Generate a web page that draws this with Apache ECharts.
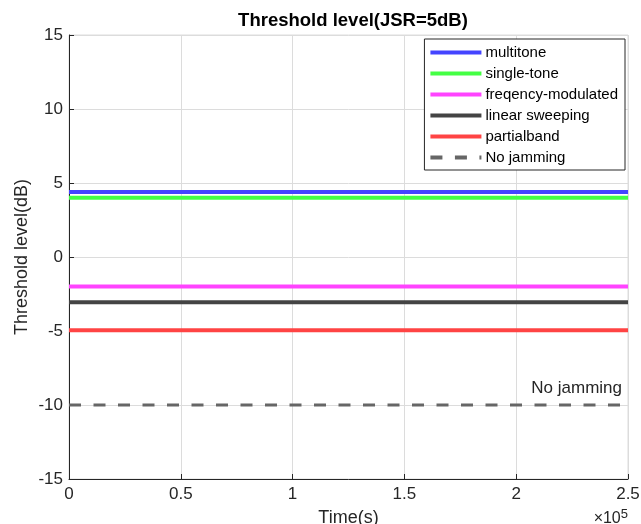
<!DOCTYPE html>
<html>
<head>
<meta charset="utf-8">
<script src="https://cdn.jsdelivr.net/npm/echarts@6/dist/echarts.min.js"></script>
<style>
  html, body { margin: 0; padding: 0; background: #fff; }
  #main { width: 641px; height: 524px; }
</style>
</head>
<body>
<div id="main"></div>
<script>
// 数据
const timeRange = [0, 250000];
const seriesNames = ['multitone', 'single-tone', 'freqency-modulated', 'linear sweeping', 'partialband', 'No jamming'];
const thresholds = [4.4, 4.0, -2.0, -3.05, -4.95, -10.0];
const seriesColors = ['#4444ff', '#44ff44', '#ff44ff', '#444444', '#ff4444', '#666666'];
const xTickLabels = ['0', '0.5', '1', '1.5', '2', '2.5'];

const chart = echarts.init(document.getElementById('main'));
const font = 'Liberation Sans, Arial, sans-serif';

const series = seriesNames.map((name, i) => {
    const s = {
        name: name,
        type: 'line',
        symbol: 'none',
        data: timeRange.map(t => [t, thresholds[i]]),
        lineStyle: { color: seriesColors[i], width: 4, type: i === 5 ? [12, 12.5] : 'solid', opacity: 1 },
        itemStyle: { color: seriesColors[i] },
        emphasis: { disabled: true },
        z: 3
    };
    if (i === 5) {
        s.lineStyle.width = 3;
        s.markPoint = {
            symbol: 'circle',
            symbolSize: 0,
            data: [{ coord: [timeRange[1], thresholds[i]] }],
            label: {
                show: true,
                formatter: 'No jamming',
                position: 'left',
                offset: [-1, -17],
                color: '#262626',
                fontSize: 17,
                fontFamily: font
            }
        };
    }
    return s;
});

const option = {
    animation: false,
    title: {
        text: 'Threshold level(JSR=5dB)',
        left: 348,
        textAlign: 'center',
        top: 6,
        textStyle: { fontSize: 18.5, fontWeight: 'bold', color: '#000', fontFamily: font }
    },
    grid: {
        left: 69, right: 13, top: 35, bottom: 45,
        outerBoundsMode: 'none',
        show: true, borderColor: '#dcdcdc', borderWidth: 1
    },
    legend: {
        orient: 'vertical',
        right: 16,
        top: 39,
        padding: [6, 7, 5, 4],
        itemWidth: 51,
        itemHeight: 14,
        itemGap: 6,
        backgroundColor: '#fff',
        borderColor: '#262626',
        borderWidth: 1,
        borderRadius: 0,
        itemStyle: { opacity: 0 },
        lineStyle: { width: 4 },
        textStyle: { fontSize: 15, color: '#000', fontFamily: font, padding: [0, 0, 0, -1] },
        data: seriesNames
    },
    xAxis: {
        type: 'value',
        min: timeRange[0],
        max: timeRange[1],
        interval: 50000,
        name: 'Time(s)',
        nameLocation: 'middle',
        nameGap: 30,
        nameTextStyle: { fontSize: 18, color: '#262626', fontFamily: font },
        axisLine: { onZero: false, lineStyle: { color: '#262626', width: 1 } },
        axisTick: { inside: true, length: 5, lineStyle: { color: '#262626' } },
        axisLabel: {
            fontSize: 17, color: '#262626', fontFamily: font, margin: 7,
            formatter: (v) => xTickLabels[Math.round(v / 50000)]
        },
        splitLine: { show: true, lineStyle: { color: '#dcdcdc', width: 1 } }
    },
    yAxis: {
        type: 'value',
        min: -15,
        max: 15,
        interval: 5,
        name: 'Threshold level(dB)',
        nameLocation: 'middle',
        nameGap: 38,
        nameMoveOverlap: false,
        nameTextStyle: { fontSize: 18, color: '#262626', fontFamily: font },
        axisLine: { onZero: false, lineStyle: { color: '#262626', width: 1 } },
        axisTick: { inside: true, length: 5, lineStyle: { color: '#262626' } },
        axisLabel: { fontSize: 17, color: '#262626', fontFamily: font, margin: 6 },
        splitLine: { show: true, lineStyle: { color: '#dcdcdc', width: 1 } }
    },
    graphic: [{
        type: 'text',
        right: 13,
        top: 508,
        style: {
            text: '×10{s|5}',
            rich: { s: { fontSize: 13, verticalAlign: 'top', padding: [0, 0, 8, 0], fill: '#262626', fontFamily: font } },
            fontSize: 16,
            fill: '#262626',
            fontFamily: font
        }
    }],
    series: series
};

chart.setOption(option);
</script>
</body>
</html>
